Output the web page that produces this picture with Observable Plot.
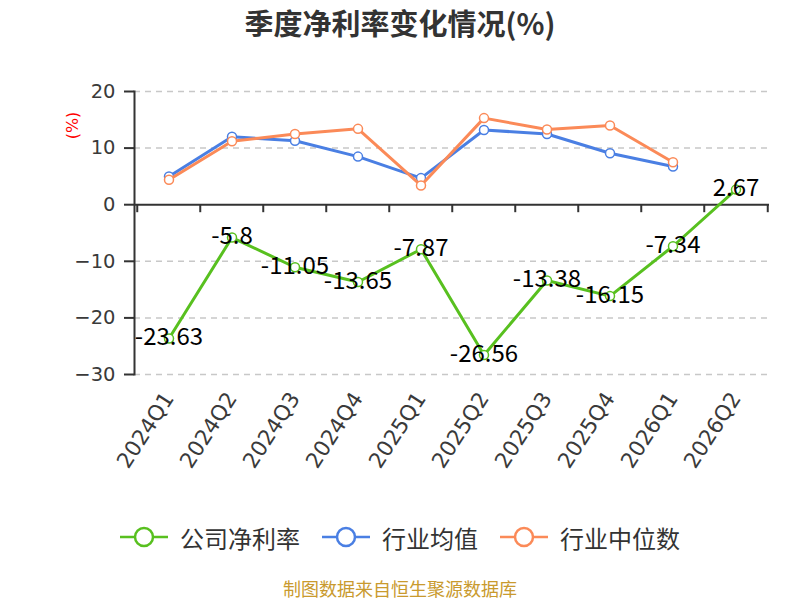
<!DOCTYPE html>
<html>
<head>
<meta charset="utf-8">
<script src="https://cdn.jsdelivr.net/npm/d3@7"></script>
<script src="https://cdn.jsdelivr.net/npm/@observablehq/plot@0.6"></script>
<style>
  body { margin: 0; background: #fff; }
  #wrap { position: relative; width: 800px; height: 600px; overflow: hidden; font-family: "Noto Sans CJK SC", "DejaVu Sans", sans-serif; }
  #title { position: absolute; left: 0; top: 0; width: 800px; height: 44px; line-height: 44px; text-align: center; font-size: 29px; font-weight: bold; color: #333; }
  #chart { position: absolute; left: 0; top: 44px; }
  #legend { position: absolute; left: 0; top: 522px; width: 800px; height: 30px; display: flex; justify-content: center; align-items: center; gap: 22px; color: #333; font-size: 24px; }
  .item { display: flex; align-items: center; gap: 12px; }
  #caption { position: absolute; left: 0; top: 577px; width: 800px; height: 22px; line-height: 22px; text-align: center; font-size: 18px; color: #c99a2e; }
</style>
</head>
<body>
<div id="wrap">
  <div id="title">季度净利率变化情况(%)</div>
  <div id="chart"></div>
  <div id="legend"></div>
  <div id="caption">制图数据来自恒生聚源数据库</div>
</div>
<script>
const quarters = ["2024Q1","2024Q2","2024Q3","2024Q4","2025Q1","2025Q2","2025Q3","2025Q4","2026Q1","2026Q2"];
const companyMargin = [-23.63, -5.8, -11.05, -13.65, -7.87, -26.56, -13.38, -16.15, -7.34, 2.67];
const industryAvg = [5.0, 12.0, 11.3, 8.5, 4.7, 13.2, 12.5, 9.1, 6.75];
const industryMedian = [4.4, 11.2, 12.5, 13.4, 3.4, 15.3, 13.3, 14.0, 7.5];
const yTicks = [-30, -20, -10, 0, 10, 20];
const gridTicks = [-30, -20, -10, 10, 20];
const seriesNames = ["公司净利率", "行业均值", "行业中位数"];
const seriesColors = ["#58c01f", "#4a7fe3", "#fb8a58"];

const W = 800, H = 456, ML = 134, MR = 31, MT = 47, MB = 126;
const bw = (W - ML - MR) / quarters.length;

const company = quarters.map((q, i) => ({q, v: companyMargin[i]}));
const avg = industryAvg.map((v, i) => ({q: quarters[i], v}));
const med = industryMedian.map((v, i) => ({q: quarters[i], v}));

const chart = Plot.plot({
  width: W, height: H,
  marginLeft: ML, marginRight: MR, marginTop: MT, marginBottom: MB,
  style: {fontFamily: "DejaVu Sans, Noto Sans CJK SC, sans-serif", background: "transparent", overflow: "visible"},
  x: {type: "band", domain: quarters, padding: 0},
  y: {domain: [-30, 20]},
  marks: [
    Plot.ruleY(gridTicks, {stroke: "#c8c8c8", strokeWidth: 1.5, strokeDasharray: "6,5"}),
    Plot.axisY({ticks: yTicks, tickSize: 10, tickPadding: 9, fontSize: 19.5, color: "#3a3a3a", stroke: "#333", strokeWidth: 2, label: null}),
    Plot.frame({anchor: "left", stroke: "#333", strokeWidth: 2}),
    Plot.ruleY([0], {stroke: "#333", strokeWidth: 2}),
    Plot.ruleX(quarters, {x: d => d, y1: 0, y2: 0, insetBottom: -8, dx: -bw / 2, stroke: "#333", strokeWidth: 2}),
    Plot.ruleX(quarters.slice(-1), {x: d => d, y1: 0, y2: 0, insetBottom: -8, dx: bw / 2, stroke: "#333", strokeWidth: 2}),
    Plot.axisX({tickSize: 0, tickRotate: -57, tickPadding: 20, fontSize: 21.5, color: "#3a3a3a", label: null}),
    Plot.text(["(%)"], {frameAnchor: "top-left", textAnchor: "middle", lineAnchor: "middle", dx: -62, dy: 34, rotate: -90, fill: "red", fontSize: 16}),
    Plot.line(company, {x: "q", y: "v", stroke: seriesColors[0], strokeWidth: 3}),
    Plot.dot(company, {x: "q", y: "v", r: 4.5, fill: "white", stroke: seriesColors[0], strokeWidth: 1.5}),
    Plot.line(avg, {x: "q", y: "v", stroke: seriesColors[1], strokeWidth: 3}),
    Plot.dot(avg, {x: "q", y: "v", r: 4.5, fill: "white", stroke: seriesColors[1], strokeWidth: 1.5}),
    Plot.line(med, {x: "q", y: "v", stroke: seriesColors[2], strokeWidth: 3}),
    Plot.dot(med, {x: "q", y: "v", r: 4.5, fill: "white", stroke: seriesColors[2], strokeWidth: 1.5}),
    Plot.text(company, {x: "q", y: "v", text: d => String(d.v), fill: "#000", fontSize: 24, dy: -1, fontFamily: "Noto Sans CJK SC, sans-serif"})
  ]
});
document.getElementById("chart").appendChild(chart);

const legend = document.getElementById("legend");
seriesNames.forEach((name, i) => {
  const item = document.createElement("div");
  item.className = "item";
  item.innerHTML = `<svg width="48" height="22"><line x1="0" y1="11" x2="48" y2="11" stroke="${seriesColors[i]}" stroke-width="2.5"/><circle cx="24" cy="11" r="9" fill="white" stroke="${seriesColors[i]}" stroke-width="2.5"/></svg><span>${name}</span>`;
  legend.appendChild(item);
});
</script>
</body>
</html>
